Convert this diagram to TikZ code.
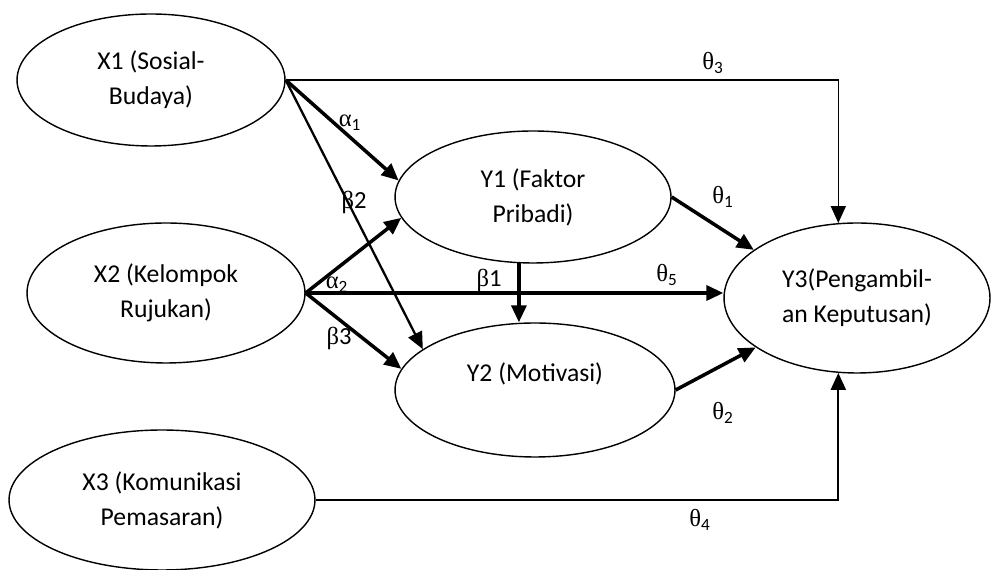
\documentclass[tikz,border=0pt]{standalone}
\usepackage{fontspec}
\setmainfont{Carlito}
\newfontfamily\grk{Liberation Serif}
\usetikzlibrary{arrows.meta, shapes.geometric}

\newcommand{\gsub}[2]{{\grk #1}\textsubscript{#2}}
\newcommand{\gnum}[2]{{\grk #1}#2}

\begin{document}
\begin{tikzpicture}[x=0.02cm, y=0.02cm, >={Triangle[length=0.34cm, width=0.3cm]},
    var/.style={draw, ellipse, line width=0.8pt, inner sep=0pt, align=center,
        font=\fontsize{14.6}{20}\selectfont},
    coef/.style={inner sep=1pt, font=\fontsize{14}{16}\selectfont},
    thinlink/.style={line width=0.9pt},
    midlink/.style={line width=1.3pt},
    boldlink/.style={line width=2pt}]

    \useasboundingbox (0,0) rectangle (993,570);

    % latent variables
    \node[var, minimum width=5.36cm, minimum height=2.64cm] (X1) at (151,490) {X1 (Sosial-\\Budaya)};
    \node[var, minimum width=5.56cm, minimum height=2.8cm] (X2) at (166,277) {X2 (Kelompok\\Rujukan)};
    \node[var, minimum width=6.12cm, minimum height=2.8cm] (X3) at (162,70) {X3 (Komunikasi\\Pemasaran)};
    \node[var, minimum width=5.52cm, minimum height=2.64cm] (Y1) at (533,373) {Y1 (Faktor\\Pribadi)};
    \node[var, minimum width=5.6cm, minimum height=2.68cm] (Y2) at (535,180) {Y2 (Motivasi)\\\mbox{}};
    \node[var, minimum width=5.32cm, minimum height=3cm] (Y3) at (857,272) {Y3(Pengambil-\\an Keputusan)};

    % paths
    \draw[thinlink, ->] (X1.east) -| (Y3.104);
    \draw[boldlink, ->] (X1.east) -- (Y1.173);
    \draw[midlink, ->] (X1.east) -- (Y2.160);

    \draw[boldlink, ->] (X2.east) -- (Y1.189);
    \draw[boldlink, ->] (X2.east) -- (Y2.171);
    \draw[boldlink, ->] (X2.east) -- (Y3.west |- X2.east);

    \draw[boldlink, ->] (Y1.258) -- (Y1.258 |- Y2.north);
    \draw[boldlink, ->] (Y1.east) -- (Y3.155);
    \draw[boldlink, ->] (Y2.east) -- (Y3.206);

    \draw[midlink, ->] (X3.east) -| (Y3.256);

    % coefficients
    \node[coef] (a1) at (350,447) {\gsub{α}{1}};
    \node[coef] (b2) at (354,368) {\gnum{β}{2}};
    \node[coef] (a2) at (337,285) {\gsub{α}{2}};
    \node[coef] (b1) at (489,290) {\gnum{β}{1}};
    \node[coef] (b3) at (339,232) {\gnum{β}{3}};
    \node[coef] (t3) at (713,507) {\gsub{θ}{3}};
    \node[coef] (t1) at (723,373) {\gsub{θ}{1}};
    \node[coef] (t5) at (667,295) {\gsub{θ}{5}};
    \node[coef] (t2) at (723,157) {\gsub{θ}{2}};
    \node[coef] (t4) at (700,50) {\gsub{θ}{4}};

\end{tikzpicture}
\end{document}
